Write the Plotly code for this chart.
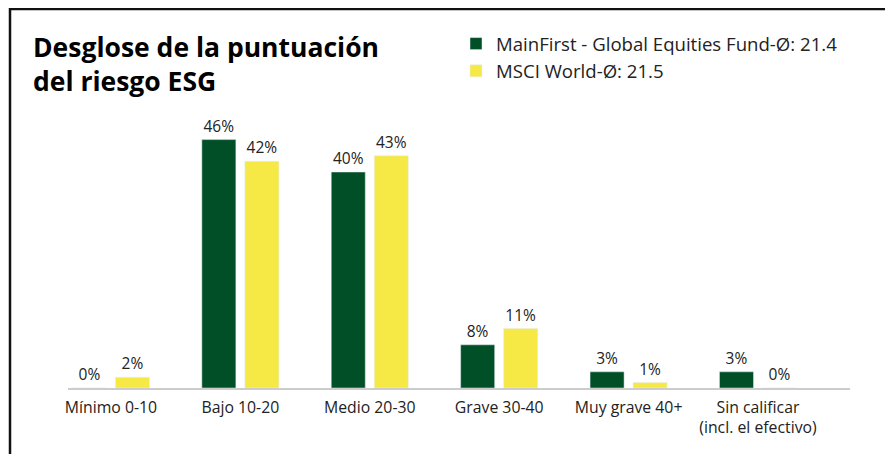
import plotly.graph_objects as go

categories = ["Mínimo 0-10", "Bajo 10-20", "Medio 20-30", "Grave 30-40", "Muy grave 40+",
              "Sin calificar<br>(incl. el efectivo)"]
fund_name = "MainFirst - Global Equities Fund-Ø: 21.4"
bench_name = "MSCI World-Ø: 21.5"
fund_values = [0, 46, 40, 8, 3, 3]
bench_values = [2, 42, 43, 11, 1, 0]

GREEN = "#004f27"
YELLOW = "#f6e946"
FONT = "Open Sans"

# page is offset by the 8px body margin; coordinates below are figure pixels
W, H = 893, 454
L, R, T, B = 60, 51, 110, 74
pw, ph = W - L - R, H - T - B

def px_x(x):
    return (x - L) / pw

def px_y(y):
    return (H - B - y) / ph

fig = go.Figure()
fig.add_trace(go.Bar(x=categories, y=fund_values, name=fund_name, marker_color=GREEN,
                     text=[f"{v}%" for v in fund_values], textposition="outside",
                     textfont=dict(size=15.5, color="#222222", family=FONT), cliponaxis=False))
fig.add_trace(go.Bar(x=categories, y=bench_values, name=bench_name, marker_color=YELLOW,
                     text=[f"{v}%" for v in bench_values], textposition="outside",
                     textfont=dict(size=15.5, color="#222222", family=FONT), cliponaxis=False))

fig.update_layout(
    width=W, height=H,
    margin=dict(l=L, r=R, t=T, b=B),
    paper_bgcolor="white", plot_bgcolor="white",
    barmode="group", bargap=0.335, bargroupgap=0.209,
    font=dict(family=FONT, color="#222222"),
    showlegend=True,
    legend=dict(x=px_x(448), y=px_y(17), xanchor="left", yanchor="top",
                font=dict(size=18.6, color="#222222", family=FONT),
                bgcolor="rgba(0,0,0,0)", tracegroupgap=0, itemwidth=30),
    xaxis=dict(range=[-0.332, 5.711], showline=True, linecolor="#cccccc", linewidth=1.5,
               ticks="", ticklabelstandoff=4,
               tickfont=dict(size=15.8, color="#222222", family=FONT), showgrid=False),
    yaxis=dict(range=[0, 50], visible=False, showgrid=False, zeroline=False),
    annotations=[dict(text="<b>Desglose de la puntuación<br>del riesgo ESG</b>",
                      xref="paper", yref="paper", x=px_x(23), y=px_y(19),
                      xanchor="left", yanchor="top", align="left", showarrow=False,
                      font=dict(size=26.5, color="#000000", family=FONT))],
    shapes=[
        dict(type="line", xref="paper", yref="paper", x0=px_x(2), x1=px_x(2),
             y0=px_y(0), y1=px_y(470), line=dict(color="#111111", width=2.5)),
        dict(type="line", xref="paper", yref="paper", x0=px_x(1), x1=px_x(900),
             y0=px_y(1), y1=px_y(1), line=dict(color="#111111", width=2.5)),
    ],
)

fig.write_html("out.html")
